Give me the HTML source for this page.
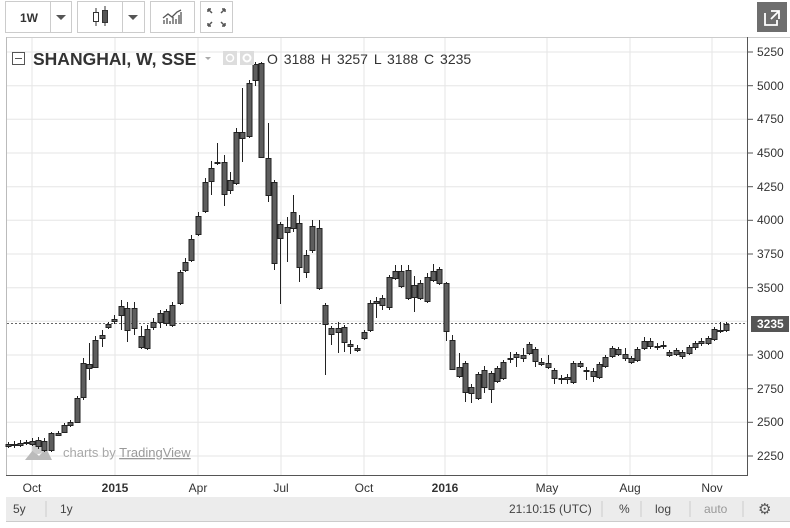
<!DOCTYPE html>
<html><head><meta charset="utf-8"><style>
body{margin:0;width:790px;height:523px;overflow:hidden;background:#fff;font-family:"Liberation Sans",sans-serif}
</style></head><body>
<svg width="790" height="523" viewBox="0 0 790 523" xmlns="http://www.w3.org/2000/svg" font-family="Liberation Sans, sans-serif">
<rect width="790" height="523" fill="#fff"/>
<g fill="#fff" stroke="#ccc">
<rect x="5.5" y="1.5" width="66" height="31"/><line x1="50.5" y1="2" x2="50.5" y2="32"/>
<rect x="77.5" y="1.5" width="67" height="31"/><line x1="122.5" y1="2" x2="122.5" y2="32"/>
<rect x="150.5" y="1.5" width="44" height="31"/>
<rect x="200.5" y="1.5" width="32" height="31"/>
</g>
<text x="20" y="22" font-size="12" font-weight="bold" fill="#333">1W</text>
<path d="M56 15h10l-5 5z M128 15h10l-5 5z" fill="#555"/>
<path d="M96 8v18M105 6v20" stroke="#333"/><rect x="93.5" y="12.5" width="5" height="9" fill="#fff" stroke="#333"/><rect x="102.5" y="10.5" width="5" height="12" fill="#555" stroke="#333"/>
<path d="M164 24v-4M167 24v-6M170 24v-3M173 24v-7M176 24v-5M179 24v-9M181 24v-12M163 18l5-4 4 3 5-5 4-2" stroke="#555" fill="none" stroke-width="1.3"/>
<path d="M208 9l4 4M208 9h3M208 9v3M225 9l-4 4M225 9h-3M225 9v3M208 26l4-4M208 26h3M208 26v-3M225 26l-4-4M225 26h-3M225 26v-3" stroke="#555" stroke-width="1.5"/>
<rect x="757" y="2" width="30" height="30" fill="#6e6e6e"/>
<path d="M765 13v12h12v-5M771 11h8v8M779 11l-8 8" stroke="#fff" stroke-width="1.8" fill="none"/>
<line x1="6" y1="37.5" x2="790" y2="37.5" stroke="#ccc"/>
<line x1="6.5" y1="37" x2="6.5" y2="475" stroke="#bbb"/>
<g stroke="#e6e6e6">
<line x1="7" y1="52" x2="747" y2="52"/><line x1="7" y1="85.7" x2="747" y2="85.7"/><line x1="7" y1="119.3" x2="747" y2="119.3"/><line x1="7" y1="153" x2="747" y2="153"/><line x1="7" y1="186.7" x2="747" y2="186.7"/><line x1="7" y1="220.3" x2="747" y2="220.3"/><line x1="7" y1="254" x2="747" y2="254"/><line x1="7" y1="287.7" x2="747" y2="287.7"/><line x1="7" y1="321.3" x2="747" y2="321.3"/><line x1="7" y1="355" x2="747" y2="355"/><line x1="7" y1="388.7" x2="747" y2="388.7"/><line x1="7" y1="422.3" x2="747" y2="422.3"/><line x1="7" y1="456" x2="747" y2="456"/>
<line x1="32" y1="38" x2="32" y2="475"/><line x1="115" y1="38" x2="115" y2="475"/><line x1="198" y1="38" x2="198" y2="475"/><line x1="281" y1="38" x2="281" y2="475"/><line x1="364" y1="38" x2="364" y2="475"/><line x1="445" y1="38" x2="445" y2="475"/><line x1="547" y1="38" x2="547" y2="475"/><line x1="630" y1="38" x2="630" y2="475"/><line x1="712" y1="38" x2="712" y2="475"/>
</g>
<line x1="747.5" y1="37" x2="747.5" y2="476" stroke="#555"/>
<line x1="6" y1="475.5" x2="748" y2="475.5" stroke="#555"/>
<line x1="7" y1="323.5" x2="747" y2="323.5" stroke="#666" stroke-dasharray="2,2"/>
<path d="M25 460l8-10 6 6 7-8 6 12z" fill="#bbb"/><circle cx="38" cy="448" r="6" fill="#ccc"/>
<text x="63" y="457" font-size="13" fill="#a8a8a8">charts by <tspan text-decoration="underline" fill="#999">TradingView</tspan></text>
<g id="c" stroke="#222" stroke-width="1" fill="#5e5e5e"></g>
<rect x="12.5" y="52.5" width="12" height="12" fill="#fff" stroke="#555"/><line x1="15" y1="58.5" x2="22" y2="58.5" stroke="#555"/>
<text x="33" y="65" font-size="17.5" font-weight="bold" fill="#333">SHANGHAI, W, SSE</text>
<path d="M205 57h6l-3 3z" fill="#aaa"/>
<rect x="223" y="51" width="14" height="14" fill="#ddd"/><rect x="240" y="51" width="14" height="14" fill="#ddd"/>
<circle cx="230" cy="58" r="3.5" fill="none" stroke="#fff" stroke-width="1.5"/><circle cx="247" cy="58" r="3.5" fill="none" stroke="#fff" stroke-width="2"/>
<text x="267" y="64" font-size="14" fill="#333" word-spacing="2">O 3188  H 3257  L 3188  C 3235</text>
<g font-size="12" fill="#333">
<text x="757" y="56">5250</text><text x="757" y="90">5000</text><text x="757" y="123">4750</text><text x="757" y="157">4500</text><text x="757" y="191">4250</text><text x="757" y="224">4000</text><text x="757" y="258">3750</text><text x="757" y="292">3500</text><text x="757" y="359">3000</text><text x="757" y="393">2750</text><text x="757" y="426">2500</text><text x="757" y="460">2250</text>
</g>
<g stroke="#555"><line x1="748" y1="52" x2="753" y2="52"/><line x1="748" y1="85.7" x2="753" y2="85.7"/><line x1="748" y1="119.3" x2="753" y2="119.3"/><line x1="748" y1="153" x2="753" y2="153"/><line x1="748" y1="186.7" x2="753" y2="186.7"/><line x1="748" y1="220.3" x2="753" y2="220.3"/><line x1="748" y1="254" x2="753" y2="254"/><line x1="748" y1="287.7" x2="753" y2="287.7"/><line x1="748" y1="355" x2="753" y2="355"/><line x1="748" y1="388.7" x2="753" y2="388.7"/><line x1="748" y1="422.3" x2="753" y2="422.3"/><line x1="748" y1="456" x2="753" y2="456"/></g>
<rect x="751" y="316" width="38" height="16" fill="#555"/>
<text x="757" y="328" font-size="12" font-weight="bold" fill="#fff">3235</text>
<g font-size="12" fill="#333" text-anchor="middle">
<text x="32" y="492">Oct</text><text x="115" y="492" font-weight="bold">2015</text><text x="198" y="492">Apr</text><text x="281" y="492">Jul</text><text x="364" y="492">Oct</text><text x="445" y="492" font-weight="bold">2016</text><text x="547" y="492">May</text><text x="630" y="492">Aug</text><text x="712" y="492">Nov</text>
</g>
<rect x="6" y="497" width="784" height="24" fill="#ececec"/>
<line x1="6" y1="521.5" x2="790" y2="521.5" stroke="#ccc"/>
<g font-size="12" fill="#444">
<text x="13" y="513">5y</text><text x="60" y="513">1y</text>
<text x="509" y="513">21:10:15 (UTC)</text><text x="619" y="513">%</text><text x="655" y="513">log</text><text x="704" y="513" fill="#999">auto</text>
</g>
<g stroke="#ccc"><line x1="46" y1="501" x2="46" y2="517"/><line x1="602" y1="501" x2="602" y2="517"/><line x1="641" y1="501" x2="641" y2="517"/><line x1="690" y1="501" x2="690" y2="517"/><line x1="743" y1="501" x2="743" y2="517"/></g>
<text x="758" y="514" font-size="15" fill="#555">⚙</text>
</svg>
<script>
var d=[[8,444,446,442,448],[14,444,445,441,448],[20,443,445,440,447],[26,442,443,440,445],[32,441,444,438,446],[38,440,446,437,449],[44,441,450,438,452],[51,433,450,432,452],[58,433,435,431,436],[64,425,432,423,433],[70,422,425,420,427],[77,398,422,396,423],[83,363,397,358,400],[89,364,368,343,380],[95,340,367,336,368],[102,335,338,330,347],[108,324,327,322,329],[114,319,321,315,324],[121,306,315,300,330],[127,308,330,302,342],[134,308,328,302,335],[141,336,347,326,349],[147,329,348,325,350],[153,322,327,318,330],[160,313,322,310,328],[166,311,323,309,326],[172,305,325,302,327],[180,272,303,270,305],[185,262,270,258,272],[191,239,260,235,262],[198,216,234,212,236],[205,182,211,178,213],[211,168,181,161,195],[217,162,163,143,165],[224,162,194,155,206],[230,180,190,172,194],[236,132,183,128,185],[242,132,138,88,162],[249,83,136,80,138],[255,64,80,62,86],[261,63,157,62,158],[268,158,195,123,202],[274,182,263,180,270],[280,224,238,222,304],[287,227,232,217,262],[293,212,228,195,232],[299,223,267,215,282],[306,255,272,250,278],[312,226,250,220,253],[319,228,288,220,290],[325,305,324,303,375],[331,328,334,326,345],[338,328,332,322,353],[344,327,342,325,352],[350,344,346,340,354],[357,348,350,345,352],[364,332,338,330,340],[370,303,330,300,332],[376,301,303,297,318],[382,298,305,295,310],[389,277,307,275,310],[395,271,278,265,280],[401,271,286,265,288],[408,270,298,265,300],[414,285,297,276,312],[420,283,298,280,300],[427,277,301,273,303],[433,271,280,264,282],[439,269,283,267,285],[446,283,331,282,341],[452,340,369,335,370],[459,367,376,353,378],[465,363,392,361,402],[471,387,393,384,403],[478,374,398,372,400],[484,370,387,366,393],[491,373,389,371,403],[497,368,381,366,383],[503,362,378,360,380],[510,358,359,352,363],[516,354,357,352,367],[523,355,358,348,362],[529,344,353,342,355],[535,349,361,347,367],[541,362,364,358,366],[548,363,367,355,369],[554,370,378,368,384],[561,378,379,375,384],[567,377,379,374,384],[573,363,382,361,384],[580,363,366,361,368],[586,370,371,367,380],[593,371,376,368,382],[599,364,377,362,379],[605,357,366,355,368],[612,348,356,346,358],[618,349,354,347,356],[625,354,358,348,361],[631,358,362,356,364],[637,349,360,347,362],[644,341,348,337,350],[650,341,346,338,349],[657,346,347,343,350],[663,345,346,341,349],[669,352,355,350,357],[676,350,354,348,356],[682,352,356,350,359],[689,347,353,345,355],[695,343,347,341,350],[701,341,343,338,346],[708,338,343,336,345],[714,329,339,327,341],[720,330,331,322,333],[726,324,330,322,332]];
var g=document.getElementById('c'),s='';
d.forEach(function(c){var x=c[0];s+='<line x1="'+(x+.5)+'" x2="'+(x+.5)+'" y1="'+c[3]+'" y2="'+c[4]+'"/>';s+='<rect x="'+(x-2)+'" y="'+(c[1]+.5)+'" width="5" height="'+Math.max(1,c[2]-c[1])+'"/>';});
g.innerHTML=s;
</script>
</body></html>
